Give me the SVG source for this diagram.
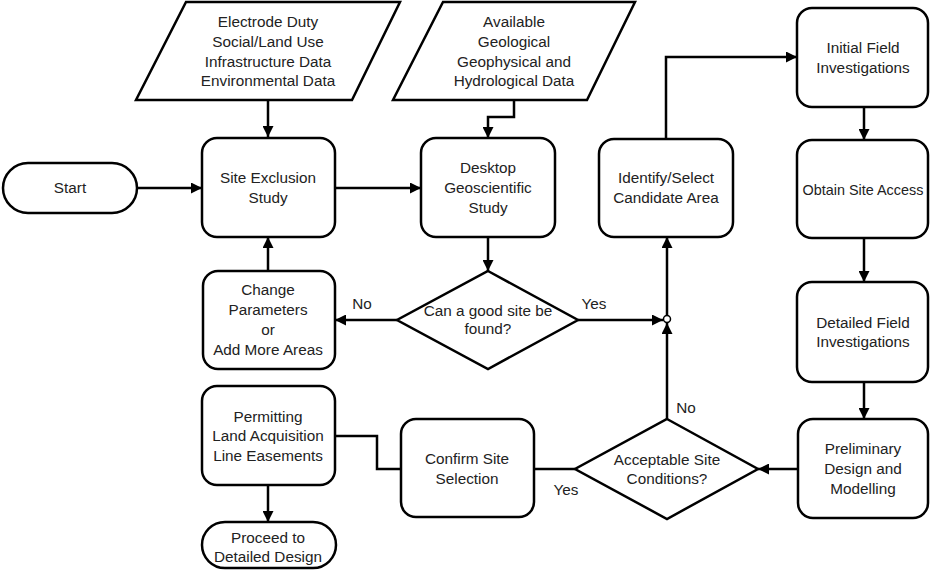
<svg xmlns="http://www.w3.org/2000/svg" width="930" height="570" viewBox="0 0 930 570">
<defs>
<marker id="ah" viewBox="0 0 10 10" refX="10" refY="5" markerWidth="11" markerHeight="11" markerUnits="userSpaceOnUse" orient="auto">
<path d="M0,0 L10,5 L0,10 Z" fill="#000"/>
</marker>
</defs>
<style>
.n{fill:#fff;stroke:#000;stroke-width:2.5}
.c{fill:none;stroke:#000;stroke-width:2.5}
.a{marker-end:url(#ah)}
text{font-family:"Liberation Sans",Arial,sans-serif;font-size:15.3px;fill:#222;text-anchor:middle}
</style>
<rect width="930" height="570" fill="#fff"/>
<g id="connectors">
<path class="c a" d="M268,100 V137"/>
<path class="c a" d="M137,188 H202"/>
<path class="c a" d="M335,188 H421"/>
<path class="c a" d="M514,100 V117 H488 V138"/>
<path class="c a" d="M488,237 V271"/>
<path class="c a" d="M397,320 H335"/>
<path class="c a" d="M268,271 V237"/>
<path class="c a" d="M578,320 H663"/>
<path class="c a" d="M667,419 V323"/>
<path class="c a" d="M667,316 V237"/>
<path class="c a" d="M666,139 V57 H797"/>
<path class="c a" d="M864,107 V140"/>
<path class="c a" d="M864,238 V282"/>
<path class="c a" d="M864,382 V419"/>
<path class="c a" d="M798,469 H758"/>
<path class="c" d="M575,469 H534"/>
<path class="c" d="M401,469 H377 V436 H335"/>
<path class="c a" d="M268,485 V522"/>
<circle cx="667" cy="319" r="3.5" fill="#fff" stroke="#000" stroke-width="1.5"/>
<text x="362" y="309">No</text>
<text x="594" y="309">Yes</text>
<text x="686" y="413">No</text>
<text x="566" y="495">Yes</text>
</g>
<g id="start"><rect class="n" x="3" y="163" width="134" height="50" rx="25"/><text x="70" y="193">Start</text></g>
<g id="data1"><path class="n" d="M186,2 H400 L352,100 H136 Z"/>
<text x="268" y="27">Electrode Duty</text><text x="268" y="47">Social/Land Use</text><text x="268" y="67">Infrastructure Data</text><text x="268" y="86">Environmental Data</text></g>
<g id="data2"><path class="n" d="M443,2 H635 L587,100 H393 Z"/>
<text x="514" y="27">Available</text><text x="514" y="47">Geological</text><text x="514" y="67">Geophysical and</text><text x="514" y="86">Hydrological Data</text></g>
<g id="exclusion"><rect class="n" x="202" y="138" width="133" height="99" rx="15"/><text x="268" y="183">Site Exclusion</text><text x="268" y="203">Study</text></g>
<g id="desktop"><rect class="n" x="421" y="138" width="134" height="99" rx="15"/><text x="488" y="173">Desktop</text><text x="488" y="193">Geoscientific</text><text x="488" y="213">Study</text></g>
<g id="change"><rect class="n" x="203" y="271" width="132" height="98" rx="15"/><text x="268" y="295">Change</text><text x="268" y="315">Parameters</text><text x="268" y="335">or</text><text x="268" y="355">Add More Areas</text></g>
<g id="decision1"><path class="n" d="M488,271 L578,320 L488,369 L397,320 Z"/><text x="488" y="316">Can a good site be</text><text x="488" y="334">found?</text></g>
<g id="identify"><rect class="n" x="599" y="139" width="134" height="98" rx="15"/><text x="666" y="183">Identify/Select</text><text x="666" y="203">Candidate Area</text></g>
<g id="initial"><rect class="n" x="797" y="8" width="131" height="99" rx="15"/><text x="863" y="53">Initial Field</text><text x="863" y="73">Investigations</text></g>
<g id="access"><rect class="n" x="797" y="140" width="131" height="98" rx="15"/><text x="863" y="195" style="font-size:14.4px">Obtain Site Access</text></g>
<g id="detailed"><rect class="n" x="797" y="282" width="131" height="100" rx="15"/><text x="863" y="328">Detailed Field</text><text x="863" y="347">Investigations</text></g>
<g id="preliminary"><rect class="n" x="798" y="419" width="130" height="99" rx="15"/><text x="863" y="454">Preliminary</text><text x="863" y="474">Design and</text><text x="863" y="494">Modelling</text></g>
<g id="decision2"><path class="n" d="M667,419 L758,469 L667,519 L575,469 Z"/><text x="667" y="465">Acceptable Site</text><text x="667" y="484">Conditions?</text></g>
<g id="confirm"><rect class="n" x="401" y="419" width="133" height="98" rx="15"/><text x="467" y="464">Confirm Site</text><text x="467" y="484">Selection</text></g>
<g id="permitting"><rect class="n" x="202" y="386" width="133" height="99" rx="15"/><text x="268" y="422">Permitting</text><text x="268" y="441">Land Acquisition</text><text x="268" y="461">Line Easements</text></g>
<g id="proceed"><rect class="n" x="202" y="522" width="134" height="46" rx="23"/><text x="268" y="543">Proceed to</text><text x="268" y="562">Detailed Design</text></g>
</svg>
